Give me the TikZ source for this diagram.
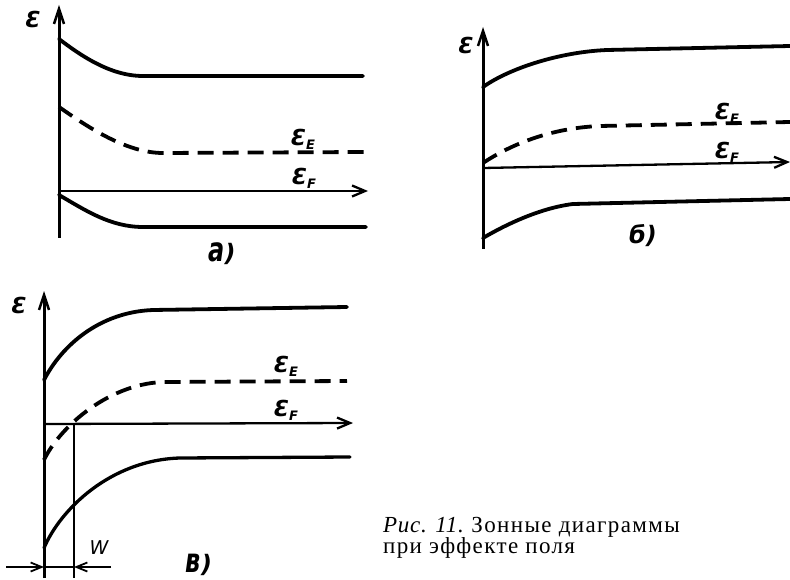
\documentclass[tikz,border=0pt]{standalone}
\usepackage{fontspec}
\setmainfont{Liberation Serif}
\newfontfamily\labfont{DejaVu Sans}
\newfontfamily\capfont[LetterSpace=6]{Liberation Serif}
\newfontfamily\capitfont[LetterSpace=3]{Liberation Serif}
\usetikzlibrary{arrows.meta}
\newcommand{\Eps}[1]{{\labfont\bfseries\itshape\fontsize{22}{22}\selectfont Ɛ\raisebox{-4pt}{\fontsize{13}{13}\selectfont #1}}}
\newcommand{\tall}[1]{\scalebox{1}[1.4]{#1}}
\begin{document}
\begin{tikzpicture}[x=1pt,y=-1pt,
  band/.style={line width=3.8pt, line cap=round},
  dashband/.style={band, line cap=butt, dash pattern=on 16pt off 9pt},
  axisline/.style={line width=3pt, -{Straight Barb[length=15pt,width=10pt,line width=2.5pt]}},
  fermi/.style={line width=2.3pt, -{Straight Barb[length=13pt,width=11pt,line width=2.3pt]}},
  thinline/.style={line width=1.6pt},
  marker/.style={line width=1.8pt, -{Straight Barb[length=11pt,width=9pt,line width=1.8pt]}},
  lbl/.style={inner sep=0pt},
  axlab/.style={inner sep=0pt, font=\labfont\bfseries\itshape\fontsize{22}{22}\selectfont},
  panel/.style={inner sep=0pt, font=\labfont\bfseries\itshape\fontsize{24}{24}\selectfont}]
\useasboundingbox (0,0) rectangle (790,580);
% ---------------- panel a
\coordinate (aB) at (59,238);
\coordinate (aT) at (59,5);
\draw[axisline] (aB) -- (aT);
\node[axlab] (aeps) at (33,19) {Ɛ};
\draw[band] (59,39) .. controls (80,55) and (110,76) .. (143,76) -- (363,76);
\draw[dashband] (59,107) .. controls (85,125) and (125,153) .. (163,153) -- (365,152);
\coordinate (aF0) at (59,191);
\coordinate (aF1) at (368,191);
\draw[fermi] (aF0) -- (aF1);
\draw[band] (59,195) .. controls (85,210) and (110,227) .. (143,227) -- (366,227);
\node[lbl] (aE) at (303,139) {\Eps{E}};
\node[lbl] (aF) at (304,178) {\Eps{F}};
\node[panel] (alab) at (222,254) {\tall{а})};
% ---------------- panel b
\coordinate (bB) at (483,249);
\coordinate (bT) at (483,27);
\draw[axisline] (bB) -- (bT);
\node[axlab] (beps) at (466,45) {Ɛ};
\draw[band] (483,87) .. controls (510,68) and (560,52) .. (607,50) -- (790,46);
\draw[dashband] (483,163) .. controls (510,145) and (550,128) .. (600,126) -- (790,122);
\coordinate (bF0) at (483,168);
\coordinate (bF1) at (790,162);
\draw[fermi] (bF0) -- (bF1);
\draw[band] (483,238) .. controls (505,225) and (540,208) .. (573,204) -- (790,199);
\node[lbl] (bE) at (727,113) {\Eps{E}};
\node[lbl] (bF) at (727,152) {\Eps{F}};
\node[panel] (blab) at (643,236) {б)};
% ---------------- panel v
\coordinate (vB) at (44,578);
\coordinate (vT) at (44,291);
\draw[axisline] (vB) -- (vT);
\node[axlab] (veps) at (19,305) {Ɛ};
\draw[band] (44,380) .. controls (62,345) and (100,312) .. (153,310) -- (347,307);
\draw[dashband] (44,460) .. controls (58,430) and (105,385) .. (162,382) -- (347,381);
\coordinate (vF0) at (44,424);
\coordinate (vF1) at (353,423);
\draw[fermi] (vF0) -- (vF1);
\draw[band, line width=3.3pt] (44,548) .. controls (60,510) and (110,460) .. (180,458) -- (350,457);
\coordinate (wT) at (74,424);
\coordinate (wB) at (74,578);
\draw[thinline] (wT) -- (wB);
\coordinate (la) at (6,567);
\coordinate (lb) at (44,567);
\coordinate (ra) at (111,567);
\coordinate (rb) at (74,567);
\draw[marker] (la) -- (lb);
\draw[marker] (ra) -- (rb);
\draw[thinline] (lb) -- (rb);
\node[lbl, font=\labfont\itshape\fontsize{19}{19}\selectfont] (W) at (99,548) {W};
\node[lbl] (vE) at (286,366) {\Eps{E}};
\node[lbl] (vF) at (286,410) {\Eps{F}};
\node[panel] (vlab) at (199,565) {\tall{в})};
% ---------------- caption
\node[anchor=north west, inner sep=0pt, align=left, font=\fontsize{23}{21}\selectfont] (cap) at (383,517)
  {{\capitfont\itshape Рис. 11.} {\capfont Зонные диаграммы}\\ {\capfont при эффекте поля}};
\end{tikzpicture}
\end{document}
